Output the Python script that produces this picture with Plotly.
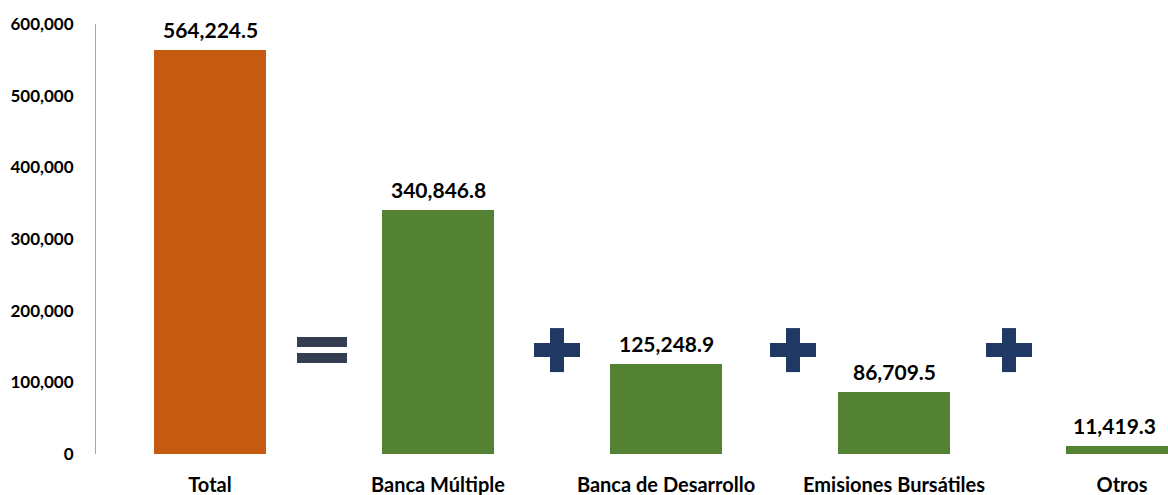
import plotly.graph_objects as go

categories = ["Total", "Banca Múltiple", "Banca de Desarrollo", "Emisiones Bursátiles", "Otros"]
values = [564224.5, 340846.8, 125248.9, 86709.5, 11419.3]
value_labels = ["564,224.5", "340,846.8", "125,248.9", "86,709.5", "11,419.3"]
bar_colors = ["#C55A11", "#548235", "#548235", "#548235", "#548235"]
y_ticks = [0, 100000, 200000, 300000, 400000, 500000, 600000]
y_tick_labels = ["0", "100,000", "200,000", "300,000", "400,000", "500,000", "600,000"]
operators = ["=", "+", "+", "+"]
operator_level = 145000
operator_nudge_px = [-2, 5, 13, 1]

FONT = "Lato"
x_idx = list(range(len(categories)))

fig = go.Figure()
fig.add_trace(go.Bar(
    x=x_idx, y=values, marker=dict(color=bar_colors, line=dict(width=0)),
    width=0.49, hoverinfo="skip", showlegend=False,
))

for i, (v, lab) in enumerate(zip(values, value_labels)):
    fig.add_annotation(
        x=i, y=v, text=lab, showarrow=False, yanchor="bottom", yshift=6,
        xshift=-8 if i == len(values) - 1 else 0,
        font=dict(family=FONT, size=21, color="#000000", weight="bold"),
    )

shapes = []
for k, op in enumerate(operators):
    xc = k + 0.5
    dx = operator_nudge_px[k]
    if op == "=":
        for (y0, y1) in [(3, 13), (-13, -3)]:
            shapes.append(dict(type="rect", xref="x", yref="y", xsizemode="pixel", ysizemode="pixel",
                               xanchor=xc, yanchor=operator_level, x0=dx - 25, x1=dx + 25, y0=y0, y1=y1,
                               fillcolor="#333F50", line=dict(width=0)))
    else:
        shapes.append(dict(type="rect", xref="x", yref="y", xsizemode="pixel", ysizemode="pixel",
                           xanchor=xc, yanchor=operator_level, x0=dx - 23, x1=dx + 23, y0=-7, y1=7,
                           fillcolor="#1F3864", line=dict(width=0)))
        shapes.append(dict(type="rect", xref="x", yref="y", xsizemode="pixel", ysizemode="pixel",
                           xanchor=xc, yanchor=operator_level, x0=dx - 7, x1=dx + 7, y0=-22, y1=22,
                           fillcolor="#1F3864", line=dict(width=0)))

fig.update_layout(
    width=1168, height=495,
    margin=dict(l=96, r=0, t=24, b=41),
    paper_bgcolor="white", plot_bgcolor="white",
    shapes=shapes,
    xaxis=dict(
        range=[-0.5, 4.2017], tickmode="array", tickvals=x_idx, ticktext=categories,
        showgrid=False, zeroline=False, showline=False, ticks="",
        tickfont=dict(family=FONT, size=20, color="#000000", weight="bold"),
        ticklabelstandoff=17,
    ),
    yaxis=dict(
        range=[0, 600000], tickmode="array", tickvals=y_ticks, ticktext=y_tick_labels,
        showgrid=False, zeroline=False, showline=True, linecolor="#A6A6A6", linewidth=1,
        ticks="", tickfont=dict(family=FONT, size=17, color="#000000", weight="bold"),
        ticklabelstandoff=18,
    ),
    bargap=0,
)

fig.write_html("out.html", config={"displayModeBar": False},
               post_script="document.body.style.margin='0px';document.body.style.overflow='hidden';")
